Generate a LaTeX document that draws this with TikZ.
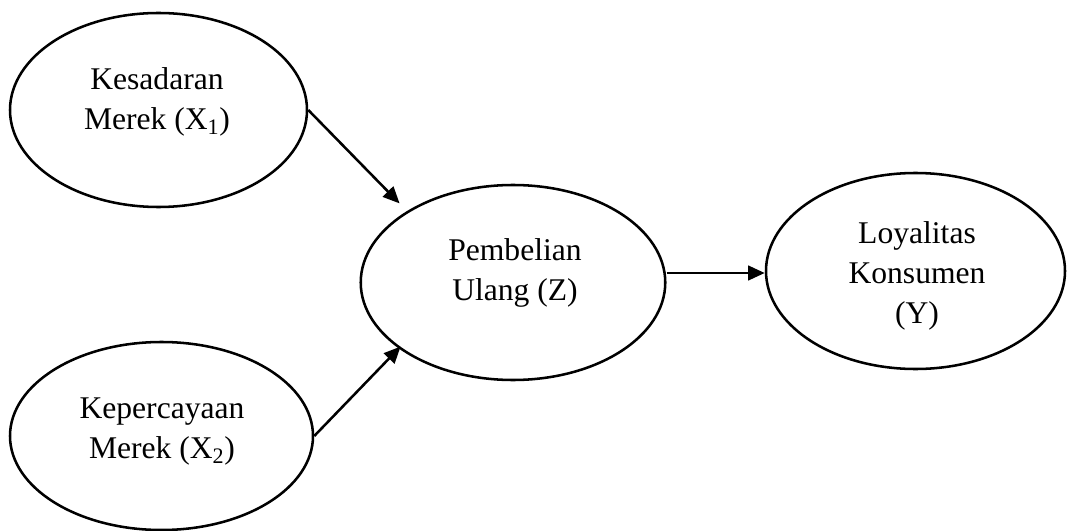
\documentclass[tikz,border=0pt]{standalone}
\usepackage{fontspec}
\setmainfont{Liberation Serif}
\usetikzlibrary{shapes.geometric,arrows.meta}
\begin{document}
\begin{tikzpicture}[x=0.75pt,y=-0.75pt,
  var/.style={draw,ellipse,line width=1.9pt,inner sep=0pt},
  lbl/.style={align=center,inner sep=0pt,font=\fontsize{23.7}{30}\selectfont},
  arr/.style={line width=1.9pt,-{Triangle[length=12.5pt,width=11pt]}}]
\useasboundingbox (0,0) rectangle (1067,531);
\node[var,minimum width=222.75pt,minimum height=145.5pt] (x1) at (158.5,110) {};
\node[var,minimum width=227.25pt,minimum height=141pt] (x2) at (161.5,436) {};
\node[var,minimum width=228.4pt,minimum height=146.25pt] (z) at (513,282.5) {};
\node[var,minimum width=224.25pt,minimum height=147pt] (y) at (915.5,271) {};
\node[lbl] (tx1) at (157,102) {Kesadaran\\Merek (X\textsubscript{1})};
\node[lbl] (tx2) at (162,432) {Kepercayaan\\Merek (X\textsubscript{2})};
\node[lbl] (tz) at (515,273) {Pembelian\\Ulang (Z)};
\node[lbl] (ty) at (917,276) {Loyalitas\\Konsumen\\(Y)};
\draw[arr,shorten >=8pt] (x1.east) -- (z.146);
\draw[arr,shorten >=-2pt] (x2.east) -- (z.210);
\draw[arr] ([yshift=-1.5pt]z.east |- y.west) -- ([yshift=-1.5pt]y.west);
\end{tikzpicture}
\end{document}
